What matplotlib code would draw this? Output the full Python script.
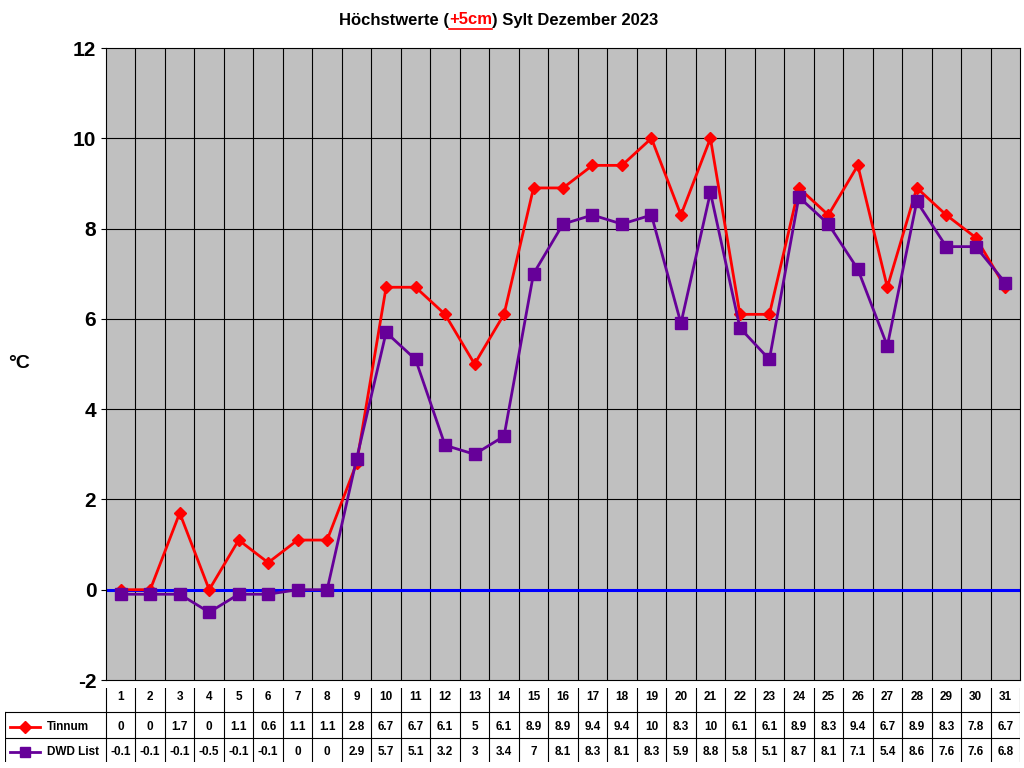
import numpy as np
import matplotlib.pyplot as plt
from matplotlib.lines import Line2D

days = list(range(1, 32))
tinnum = [0, 0, 1.7, 0, 1.1, 0.6, 1.1, 1.1, 2.8, 6.7, 6.7, 6.1, 5, 6.1, 8.9, 8.9, 9.4, 9.4, 10, 8.3,
          10, 6.1, 6.1, 8.9, 8.3, 9.4, 6.7, 8.9, 8.3, 7.8, 6.7]
dwd = [-0.1, -0.1, -0.1, -0.5, -0.1, -0.1, 0, 0, 2.9, 5.7, 5.1, 3.2, 3, 3.4, 7, 8.1, 8.3, 8.1, 8.3, 5.9,
       8.8, 5.8, 5.1, 8.7, 8.1, 7.1, 5.4, 8.6, 7.6, 7.6, 6.8]
purple = '#660099'

fig = plt.figure(figsize=(10.24, 7.68), dpi=100)
plt.rcParams['font.family'] = ['Liberation Sans', 'DejaVu Sans']

ax = fig.add_axes([106/1024, 1-680/768, 914/1024, 632/768])
ax.set_facecolor('#C0C0C0')
ax.set_xlim(0.5, 31.5)
ax.set_ylim(-2, 12)
ax.set_yticks(range(-2, 13, 2))
ax.set_yticklabels([str(v) for v in range(-2, 13, 2)], fontsize=15, fontweight='bold')
ax.set_xticks([])
for x in np.arange(1.5, 31.5, 1):
    ax.axvline(x, color='black', lw=0.8)
for y in range(0, 12, 2):
    ax.axhline(y, color='black', lw=0.8)
ax.axhline(0, color='blue', lw=2.2)
ax.plot(days, tinnum, color='red', lw=2, marker='D', ms=6)
ax.plot(days, dwd, color=purple, lw=2, marker='s', ms=8)
fig.text(8/1024, 1-364/768, '°C', fontsize=14, fontweight='bold', va='center')

# table below
tab = fig.add_axes([5/1024, 6/768, 1015/1024, 74/768])
tab.set_xlim(5, 1020)
tab.set_ylim(80, 6)
tab.axis('off')
colw = 914 / 31
for x in [106 + i * colw for i in range(32)]:
    tab.plot([x, x], [0, 82], color='black', lw=0.8)
tab.plot([5, 5], [30, 82], color='black', lw=0.8)
for y in [0, 30, 56, 82]:
    tab.plot([5 if y > 0 else 106, 1020], [y, y], color='black', lw=0.8)
for i, d in enumerate(days):
    cx = 106 + (i + 0.5) * colw
    tab.text(cx, 15, str(d), ha='center', va='center', fontsize=8.5, fontweight='bold')
    tab.text(cx, 45, f'{tinnum[i]:g}', ha='center', va='center', fontsize=8.5, fontweight='bold')
    tab.text(cx, 70, f'{dwd[i]:g}', ha='center', va='center', fontsize=8.5, fontweight='bold')
tab.plot([10, 40], [45, 45], color='red', lw=2)
tab.plot([25], [45], color='red', marker='D', ms=6)
tab.text(47, 45, 'Tinnum', va='center', fontsize=8.5, fontweight='bold')
tab.plot([10, 40], [70, 70], color=purple, lw=2)
tab.plot([25], [70], color=purple, marker='s', ms=7)
tab.text(47, 70, 'DWD List', va='center', fontsize=8.5, fontweight='bold')

# title with red underlined part
t1 = fig.text(339/1024, 1-20/768, 'Höchstwerte (', fontsize=12, fontweight='bold', va='center')
fig.canvas.draw()
r = fig.canvas.get_renderer()
bb = t1.get_window_extent(r)
t2 = fig.text(bb.x1/1024, 1-20/768, '+5cm', fontsize=12, fontweight='bold', va='center', color='red')
fig.canvas.draw()
bb2 = t2.get_window_extent(r)
fig.text(bb2.x1/1024, 1-20/768, ') Sylt Dezember 2023', fontsize=12, fontweight='bold', va='center')
fig.add_artist(Line2D([bb2.x0/1024, bb2.x1/1024], [bb2.y0/768 - 0.002] * 2, color='red', lw=1.2))

fig.savefig('out.png', dpi=100)
